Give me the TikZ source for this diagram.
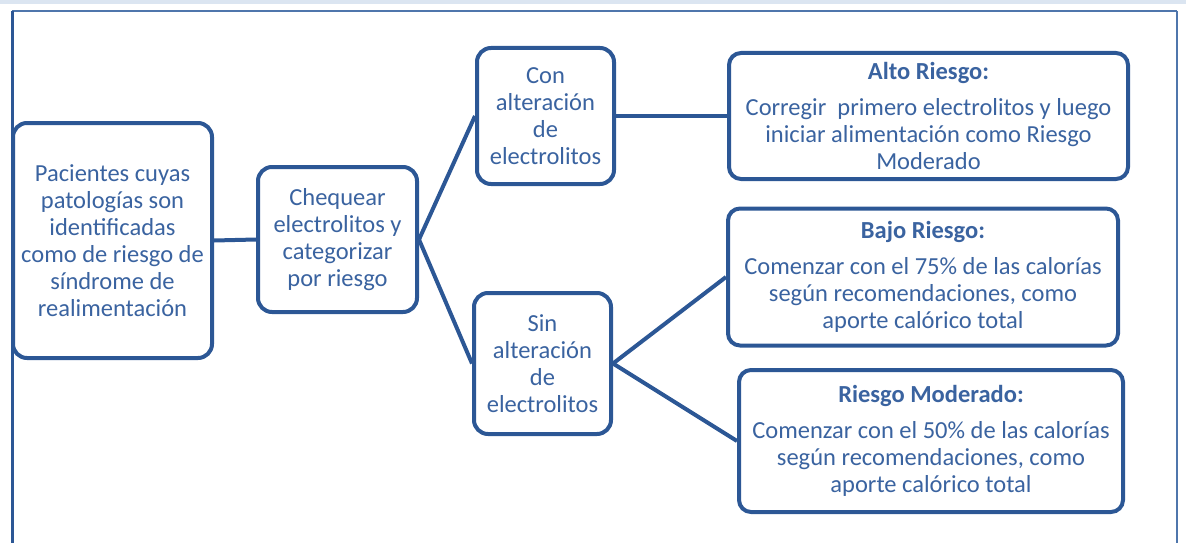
\documentclass[tikz,border=0pt]{standalone}
\usepackage{fontspec}
\setmainfont{Carlito}
\usepackage{xcolor}

\definecolor{boxblue}{RGB}{44,87,149}
\definecolor{textblue}{RGB}{58,99,160}
\definecolor{bandblue}{RGB}{219,229,241}
\definecolor{frameblue}{RGB}{79,118,172}

\begin{document}
\begin{tikzpicture}[x=1pt, y=-1pt,
		box/.style = {draw = boxblue, line width = 4pt, rounded corners = 14pt, fill = white,
			text = textblue, align = center, inner sep = 0pt, font = \fontsize{24.5}{27}\selectfont},
		link/.style = {draw = boxblue, line width = 4pt}]
		\useasboundingbox (0,0) rectangle (1186,543);

		% frame
		\fill[bandblue] (0,0) rectangle (1186,4);
		\draw[frameblue, line width = 2pt] (12,11) -- (1177,11);
		\draw[frameblue, line width = 1.5pt] (1177,11) -- (1177,543);
		\draw[boxblue, line width = 3pt] (12,11) -- (12,543);

		\node[box, minimum width = 199pt, minimum height = 235pt] (pac) at (112.5,240.5)
			{Pacientes cuyas\\patologías son\\identificadas\\como de riesgo de\\síndrome de\\realimentación};
		\node[box, minimum width = 159pt, minimum height = 145pt] (cheq) at (337.5,239.5)
			{Chequear\\electrolitos y\\categorizar\\por riesgo};

		\node[box, minimum width = 137pt, minimum height = 136pt] (con) at (545.5,116)
			{Con\\alteración\\de\\electrolitos};
		\node[box, minimum width = 137pt, minimum height = 141pt] (sin) at (542.5,363.5)
			{Sin\\alteración\\de\\electrolitos};

		\node[box, rounded corners = 12pt, minimum width = 399pt, minimum height = 126pt] (alto) at (928.5,116)
			{\textbf{Alto Riesgo:}\\[9pt]Corregir\ \ primero electrolitos y luego\\iniciar alimentación como Riesgo\\Moderado};
		\node[box, rounded corners = 12pt, minimum width = 390pt, minimum height = 137pt] (bajo) at (923,277)
			{\textbf{Bajo Riesgo:}\\[9pt]Comenzar con el 75\% de las calorías\\según recomendaciones, como\\aporte calórico total};
		\node[box, rounded corners = 12pt, minimum width = 384pt, minimum height = 142pt] (mod) at (931,441)
			{\textbf{Riesgo Moderado:}\\[9pt]Comenzar con el 50\% de las calorías\\según recomendaciones, como\\aporte calórico total};

		\draw[link] (pac.east) -- (cheq.west);
		\draw[link] (cheq.east) -- (con.west);
		\draw[link] (cheq.east) -- (sin.west);
		\draw[link] (con.east) -- (alto.west);
		\draw[link] (sin.east) -- (bajo.west);
		\draw[link] (sin.east) -- (mod.west);
	\end{tikzpicture}
\end{document}
